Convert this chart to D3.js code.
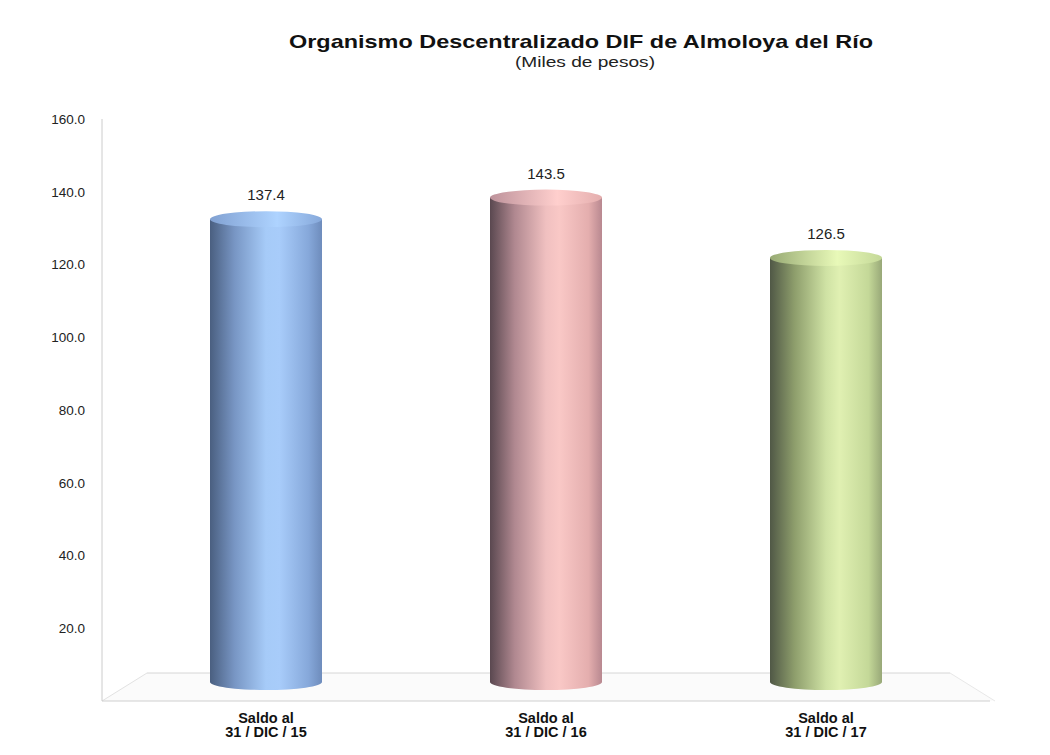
<!DOCTYPE html>
<html><head><meta charset="utf-8">
<script src="https://cdn.jsdelivr.net/npm/d3@7"></script>
<style>body{margin:0;background:#fff;}svg{display:block;font-family:Arial,"Liberation Sans",sans-serif;}</style>
</head><body>
<svg id="c" width="1050" height="755"></svg>
<script>
const categories = ["Saldo al\n31 / DIC / 15", "Saldo al\n31 / DIC / 16", "Saldo al\n31 / DIC / 17"];
const values = [137.4, 143.5, 126.5];
const tickValues = [20, 40, 60, 80, 100, 120, 140, 160];
const title = "Organismo Descentralizado DIF de Almoloya del Río";
const subtitle = "(Miles de pesos)";
const palettes = [
  ["#4a5f80","#7896c4","#a6cbf8","#a8ccfa","#86a8da","#6e8cbc"],
  ["#5a4850","#b08890","#f0c0c0","#f9c8c6","#e4aeae","#b88890"],
  ["#505846","#8e9e6c","#cfe2a4","#e0f0b2","#c4d898","#98a878"]
];

const svg = d3.select("#c");
const defs = svg.append("defs");

const yAxisScale = d3.scaleLinear().domain([0,160]).range([701,119]);
const yBar = d3.scaleLinear().domain([0,160]).range([699,131]);
const x = d3.scaleBand().domain(d3.range(categories.length)).range([126,966]).paddingInner(0.6).paddingOuter(0.3);

// title
svg.append("text").attr("x",289).attr("y",48)
  .attr("font-size",19).attr("font-weight","bold").attr("fill","#111")
  .attr("textLength",584).attr("lengthAdjust","spacingAndGlyphs").text(title);
svg.append("text").attr("x",515).attr("y",67)
  .attr("font-size",15.5).attr("fill","#222")
  .attr("textLength",140).attr("lengthAdjust","spacingAndGlyphs").text(subtitle);

// floor
const floorG = svg.append("g");
floorG.append("path").attr("d","M102,701 L147,673 L950,673 L995,701 Z").attr("fill","#fbfbfb").attr("stroke","none");
floorG.append("line").attr("x1",147).attr("y1",673).attr("x2",950).attr("y2",673).attr("stroke","#d6d6d6");
floorG.append("line").attr("x1",102).attr("y1",701).attr("x2",147).attr("y2",673).attr("stroke","#e2e2e2");
floorG.append("line").attr("x1",950).attr("y1",673).attr("x2",995).attr("y2",701).attr("stroke","#e8e8e8");
floorG.append("line").attr("x1",102).attr("y1",701).attr("x2",990).attr("y2",701).attr("stroke","#cfcfcf");

// y axis
const yAx = d3.axisLeft(yAxisScale).tickValues(tickValues).tickFormat(d3.format(".1f")).tickSize(0).tickPadding(17);
const ag = svg.append("g").attr("transform","translate(102,0)").call(yAx);
ag.select(".domain").attr("stroke","#cccccc").attr("d","M0,119V701");
ag.selectAll("text").attr("font-size",13.5).attr("fill","#222").attr("font-family","Arial,'Liberation Sans',sans-serif");

// bars
const ryT = 8, ryB = 8, base = 682;
values.forEach((v,i)=>{
  const gid = "g"+i;
  const lg = defs.append("linearGradient").attr("id",gid).attr("x1","0").attr("x2","1").attr("y1","0").attr("y2","0");
  [0,0.22,0.5,0.62,0.88,1].forEach((o,k)=>lg.append("stop").attr("offset",o).attr("stop-color",palettes[i][k]));
  const tg = defs.append("linearGradient").attr("id",gid+"t").attr("x1","0").attr("x2","1");
  [[0,d3.color(palettes[i][1]).brighter(0.2)],[0.6,d3.color(palettes[i][3]).brighter(0.1)],[1,d3.color(palettes[i][4])]].forEach(s=>tg.append("stop").attr("offset",s[0]).attr("stop-color",s[1]));
  const x0 = x(i), w = x.bandwidth(), cx = x0 + w/2, top = yBar(v) + ryT;
  const g = svg.append("g");
  g.append("path").attr("d",`M${x0},${top} L${x0},${base} A${w/2},${ryB} 0 0 0 ${x0+w},${base} L${x0+w},${top} Z`).attr("fill",`url(#${gid})`);
  g.append("ellipse").attr("cx",cx).attr("cy",top).attr("rx",w/2).attr("ry",ryT).attr("fill",`url(#${gid}t)`);
  svg.append("text").attr("x",cx).attr("y",yBar(v)-11).attr("text-anchor","middle")
    .attr("font-size",15).attr("fill","#222").text(d3.format(".1f")(v));
  const lines = categories[i].split("\n");
  lines.forEach((t,k)=>svg.append("text").attr("x",cx).attr("y",723+k*14).attr("text-anchor","middle")
    .attr("font-size",14.5).attr("font-weight","bold").attr("fill","#111").text(t));
});
</script>
</body></html>
